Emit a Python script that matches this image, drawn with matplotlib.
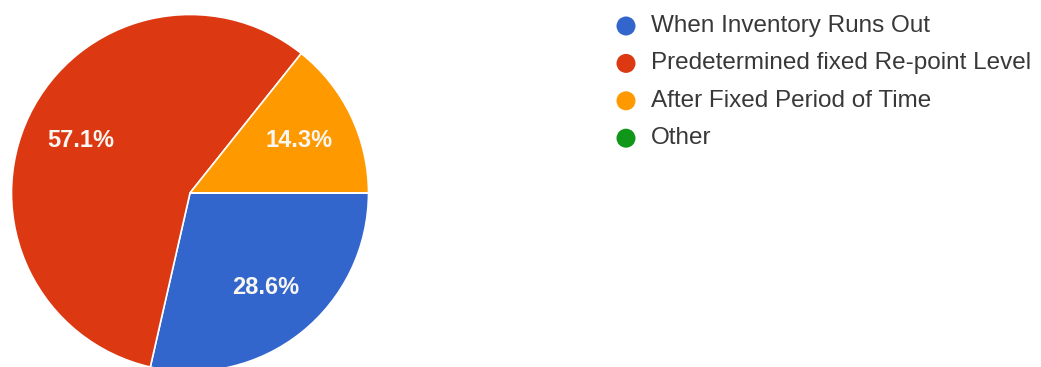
import matplotlib.pyplot as plt
from matplotlib.patches import Circle

plt.rcParams['font.family'] = ['Liberation Sans', 'DejaVu Sans']

# survey answers: when is stock reordered
labels = ['When Inventory Runs Out', 'Predetermined fixed Re-point Level',
          'After Fixed Period of Time', 'Other']
counts = [2, 4, 1, 0]
colors = ['#3366cc', '#dc3912', '#ff9900', '#109618']


def pct_label(p):
    return '%.1f%%' % p if p > 0 else ''


fig = plt.figure(figsize=(10.41, 3.67), dpi=100)
ax = fig.add_axes([0, 0, 1, 1])

wedges, texts, autotexts = ax.pie(
    counts, colors=colors, startangle=0, counterclock=False,
    center=(190, 174), radius=178.5, autopct=pct_label, pctdistance=0.68,
    wedgeprops=dict(edgecolor='white', linewidth=1.2),
    textprops=dict(color='#f8f6f0', fontsize=17, fontweight='bold'))
ax.set_xlim(0, 1041)
ax.set_ylim(0, 367)
ax.set_aspect('equal')
ax.axis('off')

# legend drawn by hand on the right
for i, (lab, col) in enumerate(zip(labels, colors)):
    y = 367 - (26 + i * 37.4)
    ax.add_patch(Circle((626, y), 9.5, color=col, lw=0))
    ax.text(651, y, lab, fontsize=17.5, color='#383838', va='center', ha='left')

fig.savefig('out.png', dpi=100, facecolor='white')
